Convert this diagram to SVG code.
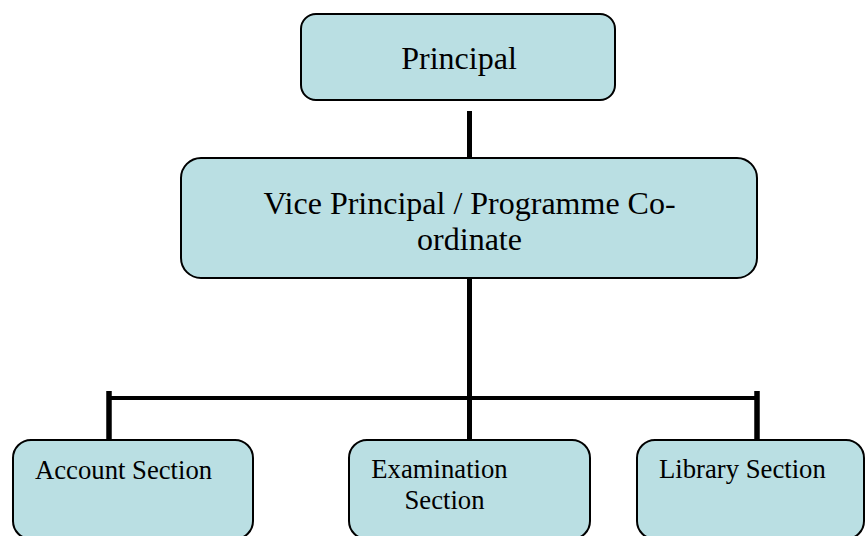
<svg xmlns="http://www.w3.org/2000/svg" width="867" height="536" viewBox="0 0 867 536">
<style>
.box{fill:#BADFE3;stroke:#000;stroke-width:2}
.t{font-family:"Liberation Serif","Times New Roman",serif;fill:#000}
.big{font-size:32px}
.small{font-size:26.7px}
.c{stroke:#000;fill:none}
</style>
<rect width="867" height="536" fill="#fff"/>
<g id="connectors">
<line class="c" x1="469.5" y1="111" x2="469.5" y2="159" stroke-width="5"/>
<line class="c" x1="469.5" y1="277" x2="469.5" y2="441" stroke-width="5"/>
<line class="c" x1="109" y1="398" x2="757" y2="398" stroke-width="4"/>
<line class="c" x1="109" y1="391" x2="109" y2="441" stroke-width="5.5"/>
<line class="c" x1="757" y1="391" x2="757" y2="441" stroke-width="5.5"/>
</g>
<g id="principal">
<rect class="box" x="301" y="14" width="314" height="86" rx="15"/>
<text class="t big" x="459" y="69" text-anchor="middle">Principal</text>
</g>
<g id="vice-principal">
<rect class="box" x="181" y="158" width="576" height="120" rx="20"/>
<text class="t big" x="469.5" y="214" text-anchor="middle">Vice Principal / Programme Co-</text>
<text class="t big" x="469.5" y="250" text-anchor="middle">ordinate</text>
</g>
<g id="account">
<rect class="box" x="13" y="440" width="240" height="99" rx="18"/>
<text class="t small" x="35" y="479">Account Section</text>
</g>
<g id="examination">
<rect class="box" x="349" y="440" width="241" height="99" rx="18"/>
<text class="t small" x="439.5" y="478" text-anchor="middle">Examination</text>
<text class="t small" x="444.5" y="509" text-anchor="middle">Section</text>
</g>
<g id="library">
<rect class="box" x="637" y="440" width="227" height="99" rx="18"/>
<text class="t small" x="659" y="478">Library Section</text>
</g>
</svg>
